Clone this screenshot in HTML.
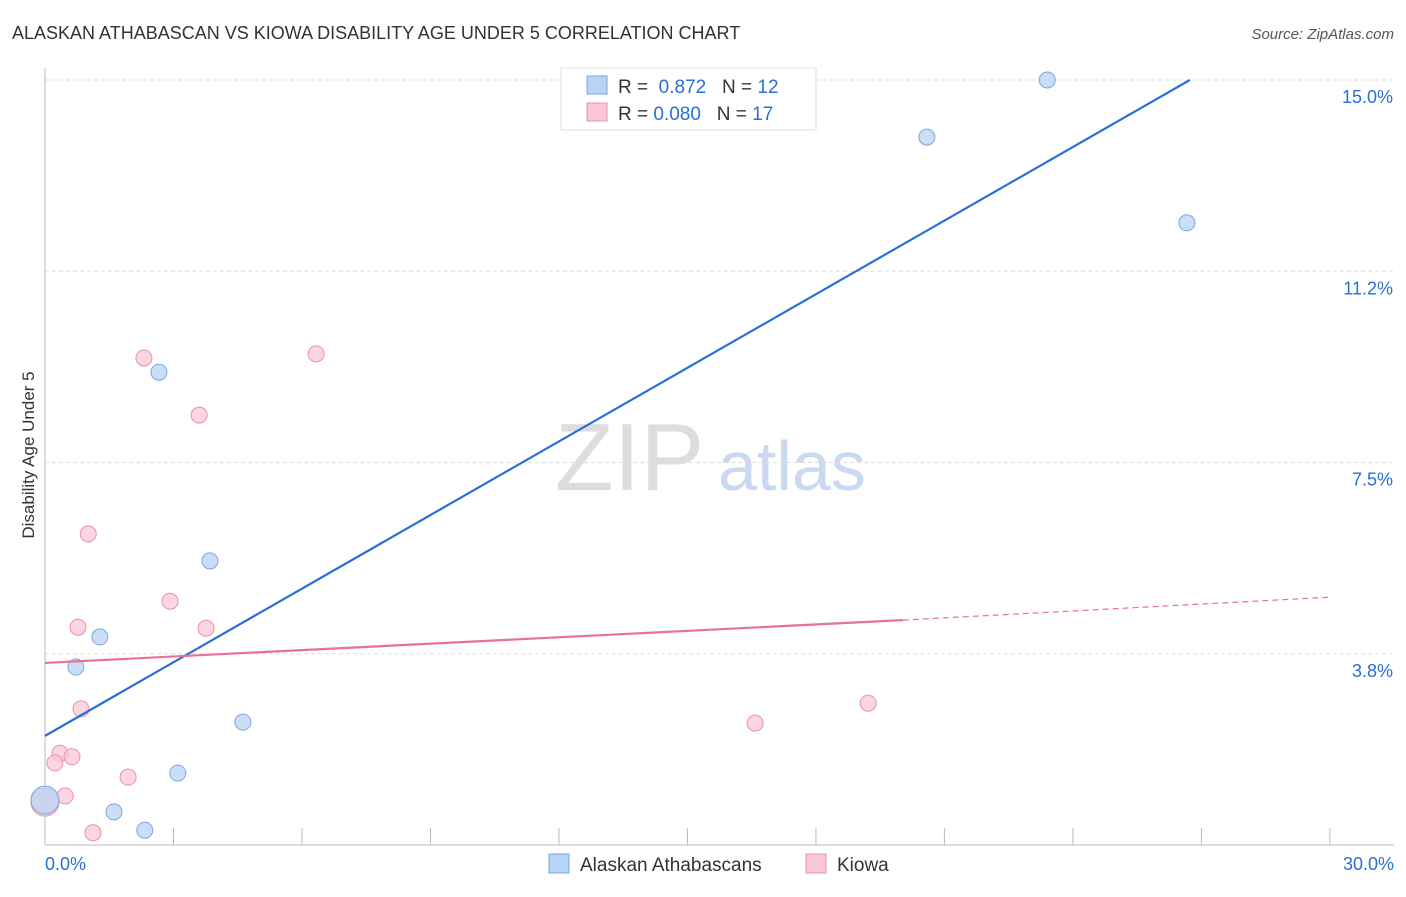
<!DOCTYPE html>
<html><head><meta charset="utf-8"><style>
body{margin:0;background:#fff;font-family:"Liberation Sans",sans-serif;}
svg text{font-family:"Liberation Sans",sans-serif;}
</style></head><body>
<svg id="c" width="1406" height="892">
<text x="12" y="39" font-size="18" fill="#333">ALASKAN ATHABASCAN VS KIOWA DISABILITY AGE UNDER 5 CORRELATION CHART</text>
<text x="1394" y="39" font-size="15" fill="#555" font-style="italic" text-anchor="end">Source: ZipAtlas.com</text>
<text x="34" y="455" font-size="17" fill="#333" text-anchor="middle" transform="rotate(-90 34 455)">Disability Age Under 5</text>
<text x="555" y="490" font-size="96" fill="#ddd" font-family="Liberation Serif">ZIP</text>
<text x="718" y="490" font-size="70" fill="#c9daf0">atlas</text>
<g id="grid"></g><g id="marks"></g>
<g>
<rect x="561" y="68" width="255" height="62" fill="#fff" stroke="#ddd"/>
<rect x="587" y="76" width="20" height="18" fill="#b9d3f5" stroke="#7aa7e0"/>
<text x="618" y="93" font-size="19" fill="#333">R = <tspan fill="#2a6fd6">&#160;0.872</tspan>&#160;&#160;&#160;N = <tspan fill="#2a6fd6">12</tspan></text>
<rect x="587" y="103" width="20" height="18" fill="#f9c7d6" stroke="#e891ad"/>
<text x="618" y="120" font-size="19" fill="#333">R = <tspan fill="#2a6fd6">0.080</tspan>&#160;&#160;&#160;N = <tspan fill="#2a6fd6">17</tspan></text>
</g>
<g>
<rect x="549" y="854" width="20" height="19" fill="#b9d3f5" stroke="#7aa7e0"/>
<text x="580" y="871" font-size="19" fill="#333">Alaskan Athabascans</text>
<rect x="806" y="854" width="20" height="19" fill="#f9c7d6" stroke="#e891ad"/>
<text x="837" y="871" font-size="19" fill="#333">Kiowa</text>
</g>
</svg>
<script>
const blueX=[0,1.28,0.72,2.66,3.85,4.62,3.10,1.61,2.33,20.59,23.40,26.66];
const blueY=[0.88,4.08,3.49,9.27,5.57,2.41,1.41,0.65,0.29,13.88,15.0,12.2];
const pinkX=[0,2.31,6.33,3.60,1.01,2.92,0.77,3.76,0.84,0.35,0.23,0.63,1.94,0.47,1.12,16.58,19.22];
const pinkY=[0.84,9.55,9.63,8.43,6.10,4.78,4.27,4.25,2.67,1.80,1.61,1.73,1.33,0.96,0.24,2.39,2.78];
const blueLine=[[0,2.14],[26.73,15.0]];
const pinkLine=[[0,3.57],[20.03,4.41],[30,4.86]];
const yTicks=[3.75,7.5,11.25,15];
const yTickLabels=["3.8%","7.5%","11.2%","15.0%"];
const xTicks=[0,3,6,9,12,15,18,21,24,27,30];
const NS="http://www.w3.org/2000/svg";
const sx=v=>45+v*42.83, sy=v=>845-v*51;
function mk(t,a,p){const e=document.createElementNS(NS,t);for(const k in a)e.setAttribute(k,a[k]);p.appendChild(e);return e;}
const g=document.getElementById('grid'), m=document.getElementById('marks');
yTicks.forEach((t,i)=>{
 const l=mk('line',{x1:45,x2:1394,y1:sy(t),y2:sy(t),stroke:'#ddd','stroke-dasharray':'4,3'},g);
 
 
 const tx=mk('text',{x:1393,y:sy(t)+23,'font-size':18,fill:'#2a6fd6','text-anchor':'end'},g);
 tx.textContent=yTickLabels[i];
 
 
});
const ax=mk('line',{x1:45,x2:45,y1:68,y2:845,stroke:'#bbb'},g);


const bx=mk('line',{x1:45,x2:1394,y1:845,y2:845,stroke:'#bbb'},g);


xTicks.forEach(t=>{
 const l=mk('line',{x1:sx(t),x2:sx(t),y1:828,y2:845,stroke:'#bbb'},g);
 
 
});
const xl0=mk('text',{x:45,y:870,'font-size':18,fill:'#2a6fd6'},g);xl0.textContent="0.0%";


const xl1=mk('text',{x:1394,y:870,'font-size':18,fill:'#2a6fd6','text-anchor':'end'},g);xl1.textContent="30.0%";


function pts(X,Y,fill,stroke,name){X.forEach((x,i)=>{
 const r=(i===0)?14:8;
 const c=mk('circle',{cx:sx(x),cy:sy(Y[i]),r:r,fill:fill,stroke:stroke,'fill-opacity':0.75},m);
 
 
});}
pts(pinkX,pinkY,'#f9c7d6','#e891ad','kiowa-point');
pts(blueX,blueY,'#b9d3f5','#7aa7e0','athabascan-point');
const bl=mk('line',{x1:sx(blueLine[0][0]),y1:sy(blueLine[0][1]),x2:sx(blueLine[1][0]),y2:sy(blueLine[1][1]),stroke:'#2a6fd6','stroke-width':2.2},m);


const pl=mk('line',{x1:sx(pinkLine[0][0]),y1:sy(pinkLine[0][1]),x2:sx(pinkLine[1][0]),y2:sy(pinkLine[1][1]),stroke:'#e8709a','stroke-width':2.2},m);


const pd=mk('line',{x1:sx(pinkLine[1][0]),y1:sy(pinkLine[1][1]),x2:sx(pinkLine[2][0]),y2:sy(pinkLine[2][1]),stroke:'#e8709a','stroke-width':1.2,'stroke-dasharray':'6,4'},m);


</script>
</body></html>
